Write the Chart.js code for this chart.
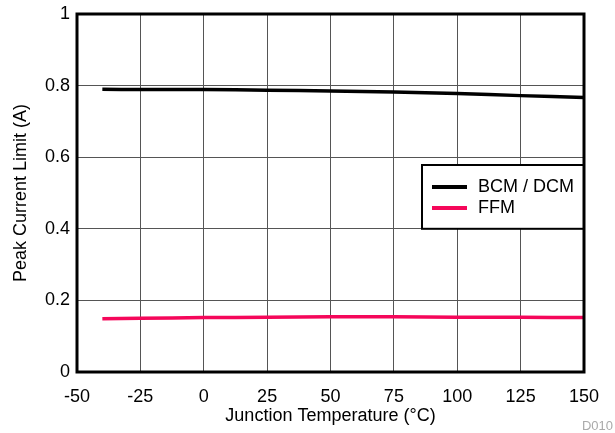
<!DOCTYPE html>
<html>
<head>
<meta charset="utf-8">
<script src="https://cdn.jsdelivr.net/npm/chart.js@4.4.1/dist/chart.umd.min.js"></script>
<style>
  html, body { margin: 0; padding: 0; background: #fff; }
  #wrap { width: 615px; height: 433px; }
</style>
</head>
<body>
<div id="wrap"><canvas id="c" width="615" height="433"></canvas></div>
<script>
// junction temperature (°C)
const temps = [-40, -25, 0, 25, 50, 75, 100, 125, 150];

// peak current limit (A)
const bcmDcm = [0.790, 0.789, 0.789, 0.787, 0.785, 0.782, 0.778, 0.772, 0.767];
const ffm = [0.149, 0.150, 0.152, 0.153, 0.154, 0.154, 0.153, 0.153, 0.152];

const xTicks = [-50, -25, 0, 25, 50, 75, 100, 125, 150];
const yTicks = [0, 0.2, 0.4, 0.6, 0.8, 1];

const seriesNames = ['BCM / DCM', 'FFM'];
const seriesColors = ['#000000', '#f5075a'];

const FONT = 'Liberation Sans, Arial, Helvetica, sans-serif';

// legend box + frame + figure id
const extras = {
  id: 'extras',
  afterDraw(chart) {
    const ctx = chart.ctx;
    const a = chart.chartArea;
    const y = chart.scales.y;
    ctx.save();

    // legend
    const top = 165, bottom = y.getPixelForValue(0.4), left = 422, right = a.right;
    ctx.fillStyle = '#fff';
    ctx.fillRect(left, top, right - left, bottom - top);
    ctx.strokeStyle = '#000';
    ctx.lineWidth = 2;
    ctx.strokeRect(left, top, right - left, bottom - top);
    ctx.font = '18px ' + FONT;
    ctx.textBaseline = 'middle';
    seriesNames.forEach((name, i) => {
      const ly = 187 + i * 21;
      ctx.strokeStyle = seriesColors[i];
      ctx.lineWidth = 4;
      ctx.beginPath();
      ctx.moveTo(432, ly);
      ctx.lineTo(467, ly);
      ctx.stroke();
      ctx.fillStyle = '#000';
      ctx.fillText(name, 478, ly);
    });

    // frame
    ctx.strokeStyle = '#000';
    ctx.lineWidth = 3;
    ctx.strokeRect(a.left, a.top, a.right - a.left, a.bottom - a.top);

    // figure id
    ctx.fillStyle = '#aaa';
    ctx.font = '13px ' + FONT;
    ctx.textAlign = 'right';
    ctx.textBaseline = 'alphabetic';
    ctx.fillText('D010', 613, 430);
    ctx.restore();
  }
};

new Chart(document.getElementById('c'), {
  type: 'line',
  data: {
    labels: temps,
    datasets: [
      {
        label: seriesNames[0],
        data: temps.map((t, i) => ({ x: t, y: bcmDcm[i] })),
        borderColor: seriesColors[0],
        borderWidth: 3.5,
        pointRadius: 0,
        tension: 0.3,
      },
      {
        label: seriesNames[1],
        data: temps.map((t, i) => ({ x: t, y: ffm[i] })),
        borderColor: seriesColors[1],
        borderWidth: 3.5,
        pointRadius: 0,
        tension: 0.3,
      },
    ],
  },
  options: {
    responsive: false,
    animation: false,
    layout: { padding: { top: 14, right: 31, left: 0, bottom: 0 } },
    plugins: {
      legend: { display: false },
      tooltip: { enabled: false },
    },
    scales: {
      x: {
        type: 'linear',
        min: -50,
        max: 150,
        afterBuildTicks: (s) => { s.ticks = xTicks.map((v) => ({ value: v })); },
        afterFit: (s) => { s.height = 61; },
        grid: { color: '#555', lineWidth: 1, drawTicks: false },
        border: { display: false },
        ticks: {
          color: '#000',
          padding: 14,
          maxRotation: 0,
          font: { family: FONT, size: 18 },
          callback: (v) => String(v),
        },
        title: {
          display: true,
          text: 'Junction Temperature (°C)',
          color: '#000',
          padding: { top: 0, bottom: 6 },
          font: { family: FONT, size: 18 },
        },
      },
      y: {
        min: 0,
        max: 1,
        afterBuildTicks: (s) => { s.ticks = yTicks.map((v) => ({ value: v })); },
        afterFit: (s) => {
          s.width = 77;
          s.paddingTop = 0;
          s.paddingBottom = 0;
        },
        grid: { color: '#555', lineWidth: 1, drawTicks: false },
        border: { display: false },
        ticks: {
          color: '#000',
          padding: 7,
          font: { family: FONT, size: 18 },
          callback: (v) => String(v),
        },
        title: {
          display: true,
          text: 'Peak Current Limit (A)',
          color: '#000',
          padding: { top: 10, bottom: 0 },
          font: { family: FONT, size: 18 },
        },
      },
    },
  },
  plugins: [extras],
});
</script>
</body>
</html>
